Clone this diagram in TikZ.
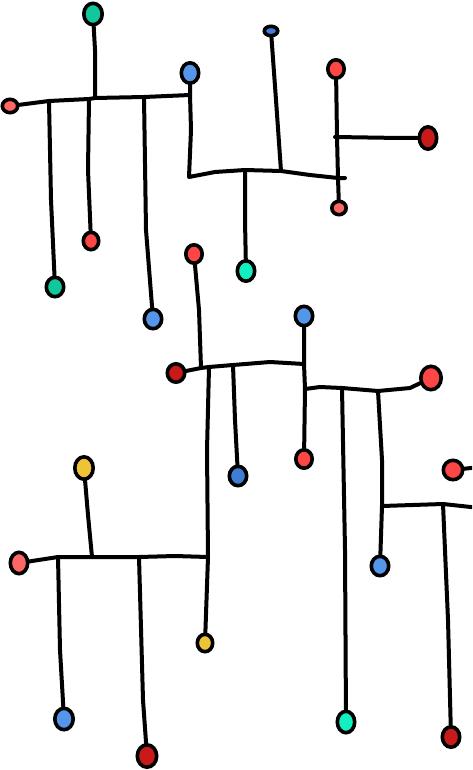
\documentclass[tikz,border=0pt]{standalone}
\usetikzlibrary{shapes.geometric}
\definecolor{cteal}{HTML}{12C79B}
\definecolor{cteallt}{HTML}{12EFC0}
\definecolor{cblue}{HTML}{5497EA}
\definecolor{cbluedk}{HTML}{3F7ED4}
\definecolor{cred}{HTML}{FF4646}
\definecolor{cpink}{HTML}{FF6666}
\definecolor{cdred}{HTML}{C81A1A}
\definecolor{cyellow}{HTML}{EEC437}
\tikzset{
  dot/.style n args={3}{ellipse, draw=black, line width=2.7pt, inner sep=0pt, fill=#1,
    minimum width={(#2-3.6)*0.75pt}, minimum height={(#3-3.6)*0.75pt}},
  wire/.style={draw=black, line width=3pt, line cap=round, line join=round}
}
\begin{document}
\begin{tikzpicture}[x=0.75pt, y=-0.75pt]
\useasboundingbox (0,0) rectangle (472,770);
\clip (0,0) rectangle (472,770);
% ---------- dots ----------
% tree 1
\node[dot={cpink}{19}{17}] (r1) at (10,106) {};
\node[dot={cteal}{22}{25}] (t1) at (93,14) {};
\node[dot={cblue}{21}{24}] (b1) at (190,73) {};
\node[dot={cteal}{21}{23}] (t2) at (55,287) {};
\node[dot={cred}{19}{21}] (r2) at (91,241) {};
\node[dot={cblue}{21}{23}] (b2) at (153,319) {};
\node[dot={cbluedk}{17}{13}] (bs) at (271,31) {};
\node[dot={cteallt}{21}{24}] (t3) at (246,271) {};
\node[dot={cred}{20}{22}] (r3) at (336,69) {};
\node[dot={cpink}{18}{17}] (r4) at (339,208) {};
\node[dot={cdred}{21}{26}] (dr1) at (428,138) {};
% tree 2
\node[dot={cred}{20}{22}] (r5) at (194,254) {};
\node[dot={cdred}{21}{22}] (dr2) at (176,373) {};
\node[dot={cyellow}{19}{21}] (y2) at (205,643) {};
\node[dot={cbluedk}{21}{23}] (b4) at (238,476) {};
\node[dot={cblue}{21}{23}] (b3) at (304,316) {};
\node[dot={cred}{20}{22}] (r6) at (304,459) {};
\node[dot={cred}{24}{27}] (r7) at (431,378) {};
\node[dot={cteallt}{21}{25}] (t4) at (346,722) {};
\node[dot={cblue}{21}{23}] (b5) at (380,566) {};
\node[dot={cred}{23}{23}] (r8) at (453,470) {};
\node[dot={cdred}{21}{24}] (dr3) at (451,737) {};
% tree 3
\node[dot={cyellow}{22}{26}] (y1) at (84,468) {};
\node[dot={cpink}{21}{25}] (pk) at (19,563) {};
\node[dot={cblue}{22}{25}] (b6) at (64,719) {};
\node[dot={cdred}{23}{26}] (dr4) at (147,756) {};
% ---------- junctions ----------
\coordinate (j11) at (49,101);
\coordinate (j12) at (89,99);
\coordinate (j13) at (95,98);
\coordinate (j14) at (144,97);
\coordinate (j15) at (190,95);
\coordinate (j16) at (189,177);
\coordinate (j17) at (245,170);
\coordinate (j18) at (281,171);
\coordinate (j19) at (338,178);
\coordinate (e1) at (345,178);
\coordinate (j20) at (335,137);
\coordinate (j21) at (201,368);
\coordinate (j22) at (209,367);
\coordinate (j23) at (233,365);
\coordinate (j24) at (304,364);
\coordinate (j25) at (208,557);
\coordinate (j26) at (305,389);
\coordinate (j27) at (342,388);
\coordinate (j28) at (378,391);
\coordinate (j29) at (382,506);
\coordinate (j30) at (443,504);
\coordinate (e2) at (480,508);
\coordinate (e3) at (480,467);
\coordinate (j31) at (92,557);
\coordinate (j32) at (58,557);
\coordinate (j33) at (139,557);
% ---------- wires: tree 1 ----------
\path[wire] (r1) -- (j11) -- (j12) -- (j13) -- (j14) -- (j15);
\path[wire] (t1) -- (95,50) -- (j13);
\path[wire] (b1) -- (j15) -- (191,130) -- (j16) -- (215,172) -- (j17) -- (j18) -- (310,175) -- (j19) -- (e1);
\path[wire] (j11) -- (51,200) -- (t2);
\path[wire] (j12) -- (88,170) -- (r2);
\path[wire] (j14) -- (146,230) -- (b2);
\path[wire] (bs) -- (276,100) -- (j18);
\path[wire] (j17) -- (245,220) -- (t3);
\path[wire] (r3) -- (337,137) -- (j19) -- (r4);
\path[wire] (j20) -- (400,138) -- (dr1);
% ---------- wires: tree 2 ----------
\path[wire] (r5) -- (199,310) -- (j21);
\path[wire] (dr2) -- (j21) -- (j22) -- (j23) -- (270,362) -- (j24);
\path[wire] (j22) -- (207,450) -- (j25) -- (y2);
\path[wire] (j23) -- (235,420) -- (b4);
\path[wire] (b3) -- (j24) -- (j26) -- (r6);
\path[wire] (j26) -- (320,387) -- (j27) -- (j28) -- (410,388) -- (r7);
\path[wire] (j27) -- (345,550) -- (t4);
\path[wire] (j28) -- (382,460) -- (j29) -- (b5);
\path[wire] (j29) -- (j30) -- (e2);
\path[wire] (r8) -- (e3);
\path[wire] (j30) -- (448,620) -- (dr3);
% ---------- wires: tree 3 ----------
\path[wire] (y1) -- (88,515) -- (j31);
\path[wire] (pk) -- (j32) -- (j31) -- (j33) -- (175,556) -- (j25);
\path[wire] (j32) -- (60,650) -- (b6);
\path[wire] (j33) -- (143,700) -- (dr4);
\end{tikzpicture}
\end{document}
